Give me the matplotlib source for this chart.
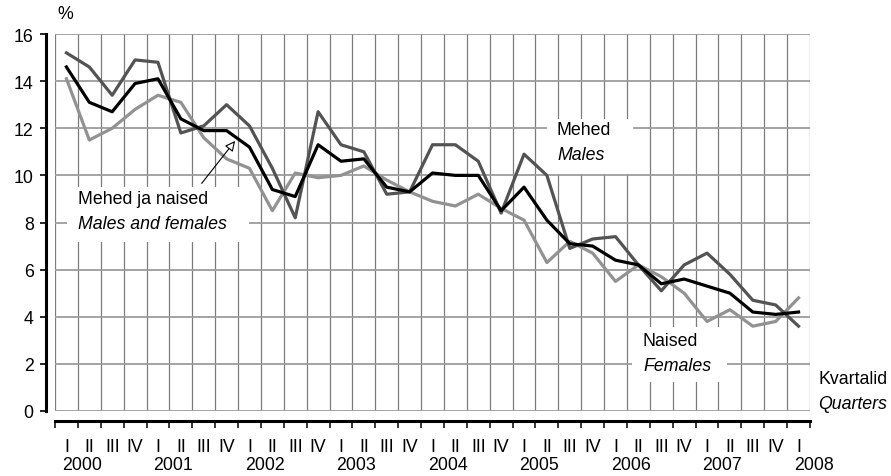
import numpy as np
import matplotlib
matplotlib.use("Agg")
import matplotlib.pyplot as plt
from matplotlib.patches import Rectangle

plt.rcParams['font.family'] = ['Liberation Sans', 'DejaVu Sans']

# quarterly data 2000 I .. 2008 I, %
quarters = ['I', 'II', 'III', 'IV'] * 8 + ['I']
years = ['2000', '2001', '2002', '2003', '2004', '2005', '2006', '2007', '2008']

males = [15.2, 14.6, 13.4, 14.9, 14.8, 11.8, 12.1, 13.0, 12.1, 10.3, 8.2,
         12.7, 11.3, 11.0, 9.2, 9.3, 11.3, 11.3, 10.6, 8.4, 10.9, 10.0,
         6.9, 7.3, 7.4, 6.2, 5.1, 6.2, 6.7, 5.8, 4.7, 4.5, 3.6]
total = [14.6, 13.1, 12.7, 13.9, 14.1, 12.4, 11.9, 11.9, 11.2, 9.4, 9.1,
         11.3, 10.6, 10.7, 9.5, 9.3, 10.1, 10.0, 10.0, 8.5, 9.5, 8.1,
         7.1, 7.0, 6.4, 6.2, 5.4, 5.6, 5.3, 5.0, 4.2, 4.1, 4.2]
females = [14.1, 11.5, 12.0, 12.8, 13.4, 13.1, 11.6, 10.7, 10.3, 8.5, 10.1,
           9.9, 10.0, 10.4, 9.8, 9.3, 8.9, 8.7, 9.2, 8.6, 8.1, 6.3,
           7.2, 6.7, 5.5, 6.2, 5.7, 5.0, 3.8, 4.3, 3.6, 3.8, 4.8]

n = len(quarters)
x = np.arange(n) + 0.5

fig = plt.figure(figsize=(8.91, 4.77), dpi=100)
ax = fig.add_axes([55 / 891, 65 / 477, 755 / 891, 377 / 477])
ax.set_xlim(0, n)
ax.set_ylim(0, 16)

# grid
ax.set_axisbelow(True)
ax.grid(axis='y', color='#9c9c9c', lw=1.3)
ax.grid(axis='x', which='major', color='#7c7c7c', lw=0.9)

# spines
for s in ['top', 'right']:
    ax.spines[s].set_visible(False)
ax.spines['left'].set_position(('outward', 6.5))
ax.spines['bottom'].set_position(('outward', 7.2))
ax.spines['left'].set_linewidth(2.2)
ax.spines['bottom'].set_linewidth(2.2)

fs = 12.8
ax.set_yticks(np.arange(0, 17, 2))
ax.tick_params(axis='y', length=4.3, width=1.2, pad=4.5, labelsize=fs)
ax.set_xticks(np.arange(n + 1))
ax.set_xticklabels([])
ax.tick_params(axis='x', which='major', length=5, width=1.1, direction='out')
ax.set_xticks(x, minor=True)
ax.set_xticklabels(quarters, minor=True)
ax.tick_params(axis='x', which='minor', length=0, pad=12.5, labelsize=fs)

for k, yr in enumerate(years):
    ax.text(4 * k + 0.3, -0.142, yr, transform=ax.get_xaxis_transform(),
            ha='left', va='center', fontsize=fs, clip_on=False)

# lines
ax.plot(x, females, color='#929292', lw=2.3, zorder=3)
ax.plot(x, males, color='#535353', lw=2.3, zorder=3.1)
ax.plot(x, total, color='black', lw=2.3, zorder=3.2)

# label boxes
for (x0, x1, y0, y1) in [(0.52, 8.48, 7.17, 9.51),
                         (21.5, 25.26, 10.06, 12.39),
                         (25.22, 29.37, 1.23, 3.57)]:
    ax.add_patch(Rectangle((x0, y0), x1 - x0, y1 - y0, facecolor='white',
                           edgecolor='none', zorder=2))

ax.text(1.0, 9.0, 'Mehed ja naised', fontsize=fs, va='center', zorder=4)
ax.text(1.0, 7.94, 'Males and females', fontsize=fs, style='italic', va='center', zorder=4)
ax.text(21.94, 11.93, 'Mehed', fontsize=fs, va='center', zorder=4)
ax.text(21.94, 10.87, 'Males', fontsize=fs, style='italic', va='center', zorder=4)
ax.text(25.7, 3.01, 'Naised', fontsize=fs, va='center', zorder=4)
ax.text(25.7, 1.95, 'Females', fontsize=fs, style='italic', va='center', zorder=4)
ax.text(33.35, 1.36, 'Kvartalid', fontsize=fs, va='center', clip_on=False)
ax.text(33.35, 0.30, 'Quarters', fontsize=fs, style='italic', va='center', clip_on=False)
ax.text(0.1, 16.85, '%', fontsize=fs, va='center', clip_on=False)

ax.annotate('', xy=(7.87, 11.46), xytext=(6.41, 9.66),
            arrowprops=dict(arrowstyle='-|>', fc='white', ec='black',
                            lw=0.8, mutation_scale=15, shrinkA=0, shrinkB=0),
            zorder=5)

fig.savefig('out.png', dpi=100)
